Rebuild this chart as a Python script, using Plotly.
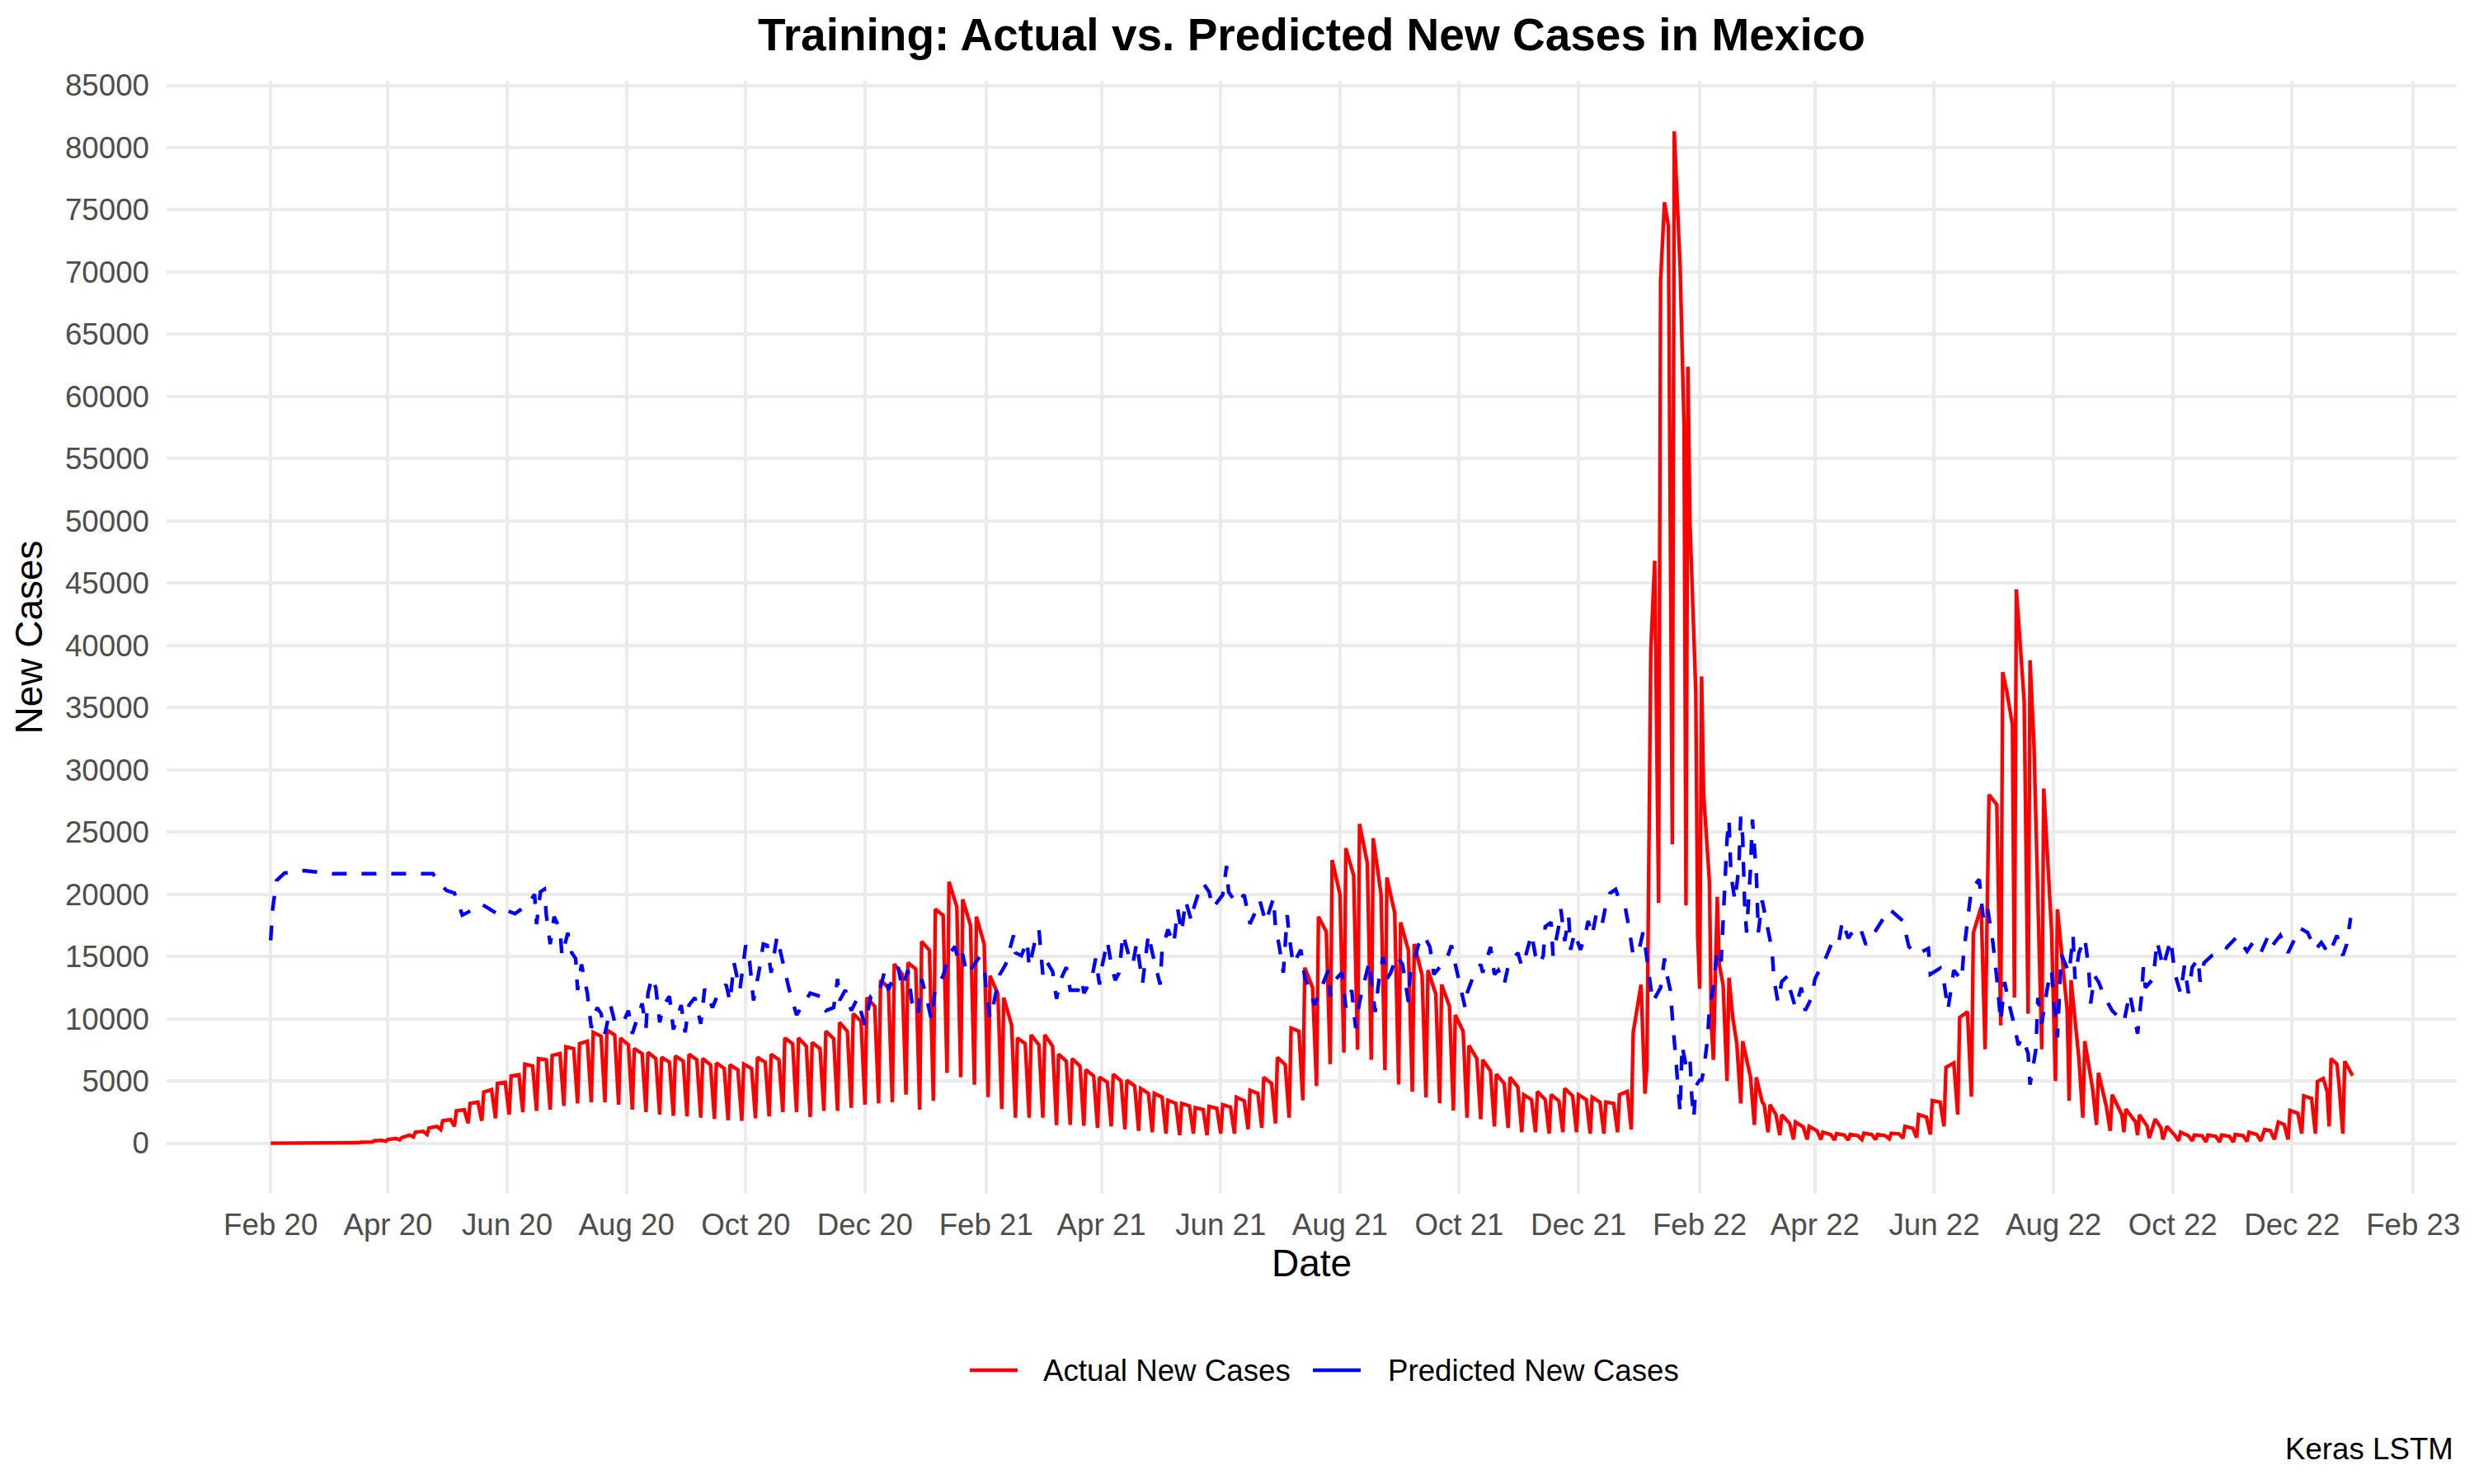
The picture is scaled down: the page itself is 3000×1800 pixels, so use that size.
import pandas as pd
import plotly.graph_objects as go

# ---------------- data ----------------
START_DATE = "2020-02-01"          # day 0 of the series

# Actual new cases: day offset from START_DATE and value
actual_days = [
    0, 44,
    45, 46, 50,   52, 53, 57,   59, 60, 64,   66, 67, 71,   73, 74, 78,
    80, 81, 85,   87, 88, 92,   94, 95, 99,   101, 102, 106,  108, 109, 113,
    115, 116, 120,  122, 123, 127,  129, 130, 134,  136, 137, 141,  143, 144, 148,
    150, 151, 155,  157, 158, 162,  164, 165, 169,  171, 172, 176,  178, 179, 183,
    185, 186, 190,  192, 193, 197,  199, 200, 204,  206, 207, 211,  213, 214, 218,
    220, 221, 225,  227, 228, 232,  234, 235, 239,  241, 242, 246,  248, 249, 253,
    255, 256, 260,  262, 263, 267,  269, 270, 274,  276, 277, 281,  283, 284, 288,
    290, 291, 295,  297, 298, 302,  304, 305, 309,  311, 312, 316,  318, 319, 323,
    325, 326, 330,  332, 333, 337,  339, 340, 344,  346, 347, 351,  353, 354, 358,
    360, 361, 365,  367, 368, 372,  374, 375, 379,  381, 382, 386,  388, 389, 393,
    395, 396, 400,  402, 403, 407,  409, 410, 414,  416, 417, 421,  423, 424, 428,
    430, 431, 435,  437, 438, 442,  444, 445, 449,  451, 452, 456,  458, 459, 463,
    465, 466, 470,  472, 473, 477,  479, 480, 484,  486, 487, 491,  493, 494, 498,
    500, 501, 505,  507, 508, 512,  514, 515, 519,  521, 522, 526,  528, 529, 533,
    535, 536, 540,  542, 543, 547,  549, 550, 554,  556, 557, 561,  563, 564, 568,
    570, 571, 575,  577, 578, 582,  584, 585, 589,  591, 592, 596,  598, 599, 603,
    605, 606, 610,  612, 613, 617,  619, 620, 624,  626, 627, 631,  633, 634, 638,
    640, 641, 645,  647, 648, 652,  654, 655, 659,  661, 662, 666,  668, 669, 673,
    675, 676, 680,  682, 683, 687,  689, 690, 694,  696, 697, 701,
    703, 704, 706, 708,
    710, 711, 713, 715,
    717, 718, 720, 721, 723,
    724, 725, 726, 729, 730,
    731, 732, 733, 736, 737,
    738, 740, 741, 743,
    745, 746, 748, 750,
    752, 753, 756, 757,
    759, 760, 763, 764,
    766, 767, 770,  772, 773, 777,  779, 780, 784,  786, 787, 791,  793, 794, 798,
    800, 801, 805,  807, 808, 812,  814, 815, 819,  821, 822, 826,  828, 829, 833,
    835, 836, 840,  842, 843, 847,  849, 850, 854,  856, 857, 861,  863, 864, 868,
    870, 871, 873, 875,
    877, 879, 883,
    885, 886, 888, 891,
    892, 893, 897,
    899, 900, 902,
    906, 907, 911,  913, 914, 919,  920, 921, 925,  927, 928, 932,  934, 935, 939,
    941, 942, 947,  948, 949, 954,  955, 956, 960,  961, 964, 967,  968, 970, 974,
    976, 977, 981,  983, 984, 988,  990, 991, 995,  997, 998, 1002,  1004, 1005, 1009,
    1011, 1012, 1016,  1018, 1020, 1023,  1025, 1027, 1030,  1032, 1033, 1037,
    1039, 1040, 1044,
    1046, 1047, 1050, 1052,
    1053, 1054, 1057, 1058,
    1060, 1061, 1063, 1065,
]
actual_cases = [
    0, 0,
    40, 80, 120,   100, 190, 230,   150, 300, 380,   280, 450, 650,   500, 880, 950,
    700, 1230, 1350,   1100, 1800, 1900,   1350, 2600, 2700,   1600, 3200, 3300,   1800, 4100, 4300,
    2000, 4800, 4900,   2300, 5400, 5500,   2500, 6350, 6200,   2600, 6800, 6700,   2700, 7050, 7200,
    3000, 7750, 7600,   3200, 8000, 8200,   3300, 8900, 8600,   3300, 9100, 8700,   3100, 8450, 7900,
    2700, 7600, 7200,   2500, 7300, 6800,   2300, 6900, 6500,   2200, 7000, 6600,   2150, 7150, 6700,
    2050, 6800, 6300,   1950, 6450, 6000,   1850, 6300, 5900,   1800, 6350, 6000,   2000, 6900, 6500,
    2150, 7150, 6700,   2500, 8450, 8000,   2500, 8450, 7800,   2100, 8100, 7600,   2600, 9000, 8400,
    2600, 9700, 9000,   2850, 10400, 9800,   3100, 11700, 11000,   3200, 13100, 12500,   3300, 14400, 13600,
    3900, 14500, 14000,   2700, 16200, 15500,   3400, 18800, 18300,   5650, 21000, 19000,   5300, 19600, 17500,
    4700, 18200, 16000,   3700, 13450, 12000,   2750, 11700, 9500,   2050, 8450, 8000,   2050, 8700, 7900,
    2050, 8700, 7800,   1450, 7150, 6600,   1470, 6800, 6200,   1400, 5900, 5400,   1230, 5300, 4900,
    1350, 5550, 5000,   1120, 5050, 4600,   1000, 4400, 4000,   880, 4000, 3700,   770, 3450, 3200,
    650, 3200, 3000,   770, 2850, 2700,   650, 2950, 2800,   770, 3100, 2900,   770, 3700, 3400,
    1120, 4250, 4000,   1230, 5300, 4800,   1580, 6900, 6300,   2050, 9250, 9000,   3440, 14100, 12500,
    4600, 18200, 17000,   6350, 22750, 20000,   7280, 23700, 21500,   7510, 25650, 22500,   6700, 24500, 20000,
    5880, 21350, 18500,   4720, 17750, 15500,   4140, 16000, 13500,   3680, 13900, 12000,   3210, 12750, 11000,
    2630, 10300, 9000,   2050, 7850, 6800,   1930, 6700, 5800,   1350, 5550, 4800,   1230, 5300, 4500,
    880, 3900, 3500,   880, 4150, 3500,   770, 3900, 3400,   880, 4400, 3800,   880, 3900, 3500,
    770, 3700, 3300,   770, 3300, 3200,   880, 3900, 4150,   1100, 8900, 12740,
    3970, 6150, 39600, 46800,
    19300, 69300, 75600, 73700,
    24000, 81300, 74000, 70400, 57700,
    19100, 62400, 50000, 36300, 16600,
    12400, 37500, 28100, 21000, 9450,
    6700, 19800, 14400, 12700,
    5000, 13300, 10000, 8000,
    3200, 8200, 6200, 5300,
    1470, 5300, 3300, 3100,
    880, 3100, 2300,   650, 2280, 1600,   300, 1700, 1300,   300, 1350, 1000,   300, 880, 700,
    250, 770, 650,   250, 700, 600,   300, 800, 700,   300, 700, 600,   350, 800, 750,
    400, 1360, 1200,   450, 2300, 2100,   700, 3430, 3300,   1360, 6100, 6440,   2300, 10100, 10560,
    3740, 16900, 18000, 19000,
    7550, 28000, 27200,
    9460, 37850, 36400, 33600,
    11700, 44500, 35500,
    10400, 38800, 32000,
    7550, 28500, 17100,   5000, 18800, 10700,   3400, 13100, 6800,   2050, 8200, 4370,   1470, 5650, 2980,
    1000, 3900, 2280,   880, 2745, 1700,   650, 2280, 1350,   420, 1930, 1230,   300, 1350, 650,
    190, 880, 600,   190, 650, 600,   100, 650, 550,   100, 650, 550,   100, 700, 600,
    150, 880, 700,   190, 1100, 1000,   300, 1700, 1500,   300, 2630, 2400,
    770, 3800, 3600,
    770, 4950, 5200, 4140,
    1350, 6800, 6350, 4840,
    770, 6580, 6000, 5420,
]

# Predicted new cases: day offset from START_DATE and value
predicted_days = [
    0, 1, 3, 7, 17, 22, 32, 83, 87, 90, 94, 96, 98, 101, 105, 108, 112, 117, 121, 125,
    129, 133, 135, 136, 138, 140, 141, 143, 145, 148, 149, 152, 154, 156, 157, 159, 162, 163, 164, 167,
    169, 171, 174, 176, 180, 183, 185, 190, 192, 193, 195, 197, 199, 201, 204, 206, 210, 212, 214, 217,
    220, 222, 226, 229, 233, 235, 237, 240, 243, 245, 247, 250, 252, 254, 256, 259, 262, 265, 269, 273,
    276, 281, 284, 288, 290, 291, 294, 297, 300, 304, 307, 311, 314, 316, 319, 321, 323, 326, 328, 331,
    333, 336, 338, 340, 344, 347, 350, 352, 354, 356, 359, 362, 365, 366, 368, 370, 373, 376, 378, 380,
    381, 384, 387, 388, 391, 393, 395, 397, 400, 402, 404, 407, 409, 413, 415, 416, 420, 422, 424, 425,
    428, 430, 432, 434, 436, 439, 441, 443, 446, 449, 451, 453, 455, 456, 459, 462, 464, 466, 468, 471,
    472, 475, 477, 480, 482, 487, 489, 490, 494, 498, 501, 503, 506, 509, 513, 514, 516, 518, 520, 521,
    523, 527, 529, 532, 534, 537, 541, 542, 545, 548, 550, 553, 555, 557, 560, 562, 564, 565, 567, 569,
    571, 573, 576, 579, 582, 583, 585, 587, 590, 593, 595, 598, 601, 604, 606, 609, 611, 612, 615, 619,
    620, 624, 626, 628, 631, 633, 638, 640, 642, 645, 647, 649, 651, 652, 655, 656, 659, 660, 662, 664,
    665, 667, 670, 672, 674, 676, 678, 681, 683, 685, 688, 690, 693, 695, 697, 700, 702, 703, 705, 707,
    711, 713, 714, 716, 717, 718, 719, 721, 722, 724, 726, 727, 728, 729, 731, 732, 733, 735, 736, 738,
    739, 740, 742, 744, 745, 746, 747, 749, 751, 752, 753, 754, 755, 757, 758, 760, 761, 763, 765, 768,
    769, 771, 773, 776, 777, 780, 783, 785, 788, 790, 793, 796, 799, 802, 804, 807, 810, 813, 816, 821,
    828, 835, 838, 842, 848, 849, 854, 856, 858, 861, 865, 866, 868, 870, 874, 876, 878, 881, 883, 885,
    887, 889, 892, 894, 896, 899, 900, 903, 904, 906, 909, 911, 912, 914, 916, 918, 920, 922, 923, 925,
    928, 930, 931, 933, 935, 938, 942, 948, 951, 955, 957, 958, 959, 963, 965, 968, 972, 974, 977, 979,
    981, 983, 986, 987, 989, 993, 999, 1001, 1006, 1011, 1014, 1018, 1022, 1024, 1028, 1032, 1038, 1042, 1046, 1049,
    1053, 1057, 1060, 1062, 1064,
]
predicted_cases = [
    16300, 18800, 21100, 21700, 21900, 21800, 21650, 21650, 20800, 20300, 20100, 19300, 18330, 18560, 19000, 19200, 18800, 18330, 18680, 18440,
    18900, 19500, 20000, 17600, 20200, 20400, 18330, 16000, 18200, 17200, 15070, 16900, 15300, 14840, 12300, 14370, 12050, 10900, 9260, 10900,
    10420, 8800, 11000, 9720, 9600, 10650, 8800, 11230, 9260, 12050, 13330, 12500, 9720, 11100, 11800, 9140, 11100, 8900, 11100, 11700,
    9600, 12400, 10900, 12050, 12750, 11350, 14500, 12300, 15900, 14600, 11470, 14000, 16000, 15900, 13700, 16600, 14700, 12500, 10300, 11230,
    12050, 11800, 10650, 10900, 13200, 11470, 12300, 10650, 11600, 9500, 11800, 11900, 13800, 12300, 13560, 14140, 12500, 13900, 11350, 10300,
    13200, 11350, 9950, 12500, 13450, 15200, 15800, 14500, 15200, 13560, 14140, 14840, 14370, 12300, 10070, 11350, 13560, 14370, 15540, 16700,
    15300, 15070, 16240, 14140, 16240, 17170, 13560, 14600, 13800, 11600, 13100, 14140, 12300, 12300, 13100, 12050, 13200, 14840, 12750, 14000,
    16240, 14370, 13100, 13700, 16800, 15070, 14370, 16100, 12860, 16800, 15300, 13900, 12750, 15540, 17170, 16000, 18800, 16930, 19500, 17860,
    18800, 20300, 20900, 20200, 18900, 19960, 22280, 20200, 19260, 19960, 17630, 18330, 19500, 17750, 19700, 17400, 15770, 13700, 18330, 16700,
    14370, 15540, 13330, 12050, 11100, 12300, 13900, 11800, 13200, 13700, 10900, 12300, 9260, 11350, 13200, 14600, 11800, 10540, 13200, 14960,
    13200, 13700, 15070, 14370, 11350, 13700, 14600, 15900, 16700, 15770, 13560, 14140, 14500, 15900, 14370, 12300, 10900, 12050, 13330, 14370,
    13700, 15770, 13560, 13900, 12750, 14200, 15300, 14200, 15070, 16800, 15070, 14370, 15070, 17400, 17750, 15070, 17500, 18800, 16240, 18200,
    15540, 16930, 15540, 16470, 17860, 16700, 18330, 17500, 19140, 20070, 20400, 19500, 18900, 17170, 15070, 15540, 16930, 16000, 13700, 11350,
    12500, 14840, 13700, 12300, 10200, 8330, 5770, 2500, 7860, 6230, 6900, 3680, 2050, 4600, 5070, 5070, 5770, 8330, 10900, 12500,
    14140, 15540, 14600, 21800, 24400, 26000, 21600, 19500, 22050, 26240, 24600, 19260, 16930, 22050, 26000, 21600, 16930, 19500, 17860, 15540,
    13200, 11350, 12980, 13440, 12500, 10900, 12500, 10650, 11600, 13200, 14140, 15070, 16240, 16000, 17860, 16470, 17170, 17390, 15960, 17070,
    18820, 17860, 15800, 15170, 15640, 13580, 14060, 12950, 10720, 13900, 13100, 15170, 17860, 20400, 21200, 18180, 19130, 16120, 13260, 9770,
    12950, 11360, 9460, 7870, 8500, 7230, 4700, 7550, 11680, 9610, 12630, 13900, 11680, 8500, 15170, 14370, 13680, 16700, 13200, 15300,
    16470, 14140, 11230, 13440, 12980, 11800, 10650, 9720, 12050, 8800, 11800, 14140, 12500, 13200, 16240, 14140, 16350, 13680, 12050, 14260,
    12050, 14140, 14840, 12980, 14490, 15070, 15320, 15800, 16600, 15420, 16120, 15300, 16700, 15890, 16700, 15300, 17280, 16930, 15540, 16120,
    15190, 16700, 15070, 16000, 18100,
]

y_tick_values = list(range(0, 85001, 5000))

assert len(actual_days) == len(actual_cases)
assert len(predicted_days) == len(predicted_cases)

# ---------------- figure ----------------
W, H = 3000, 1800
OFF = 8                      # the page body adds an 8 px margin; positions below are screen pixels
# plot panel in screen pixels: x 202..2979, y 98..1448
ML = 202 - OFF
MT = 98 - OFF
MR = W - (2979 - OFF)
MB = H - (1448 - OFF)
PW, PH = W - ML - MR, H - MT - MB
FONT = "Liberation Sans, Arial, Helvetica, sans-serif"

start = pd.Timestamp(START_DATE)
x_actual = start + pd.to_timedelta(actual_days, unit="D")
x_pred = start + pd.to_timedelta(predicted_days, unit="D")

span = max(actual_days) - min(actual_days)
x_range = [start - pd.Timedelta(days=0.05 * span), start + pd.Timedelta(days=max(actual_days) + 0.05 * span)]
ymax = max(actual_cases)
y_range = [-0.05 * ymax, ymax * 1.05]


def px_x(px):
    """screen pixel x -> paper coordinate"""
    return (px - OFF - ML) / PW


def px_y(py):
    """screen pixel y -> paper coordinate"""
    return (MT + PH - (py - OFF)) / PH


LW = 4.4
fig = go.Figure()
fig.add_trace(go.Scatter(x=x_actual, y=actual_cases, mode="lines", name="Actual New Cases",
                         line=dict(color="#FF0000", width=LW), showlegend=False))
fig.add_trace(go.Scatter(x=x_pred, y=predicted_cases, mode="lines", name="Predicted New Cases",
                         line=dict(color="#0000FF", width=LW, dash="18px,18px"), showlegend=False))

# legend (drawn like ggplot's bottom legend, solid keys)
leg_y = px_y(1662)
shapes = [
    dict(type="line", xref="paper", yref="paper", x0=px_x(1176), x1=px_x(1234), y0=leg_y, y1=leg_y,
         line=dict(color="#FF0000", width=LW)),
    dict(type="line", xref="paper", yref="paper", x0=px_x(1592), x1=px_x(1650), y0=leg_y, y1=leg_y,
         line=dict(color="#0000FF", width=LW)),
]
annotations = [
    dict(text="Actual New Cases", xref="paper", yref="paper", x=px_x(1263), y=leg_y,
         xanchor="left", yanchor="middle", showarrow=False, font=dict(family=FONT, size=36.7, color="black")),
    dict(text="Predicted New Cases", xref="paper", yref="paper", x=px_x(1681), y=leg_y,
         xanchor="left", yanchor="middle", showarrow=False, font=dict(family=FONT, size=36.7, color="black")),
    dict(text="Keras LSTM", xref="paper", yref="paper", x=px_x(2977), y=px_y(1757),
         xanchor="right", yanchor="middle", showarrow=False, font=dict(family=FONT, size=36.7, color="black")),
]

fig.update_layout(
    width=W, height=H,
    margin=dict(l=ML, r=MR, t=MT, b=MB, autoexpand=False),
    paper_bgcolor="white", plot_bgcolor="white",
    font=dict(family=FONT, color="black"),
    title=dict(text="<b>Training: Actual vs. Predicted New Cases in Mexico</b>",
               x=0.5, xref="paper", y=1 - (42 - OFF) / H, yref="container",
               xanchor="center", yanchor="middle",
               font=dict(family=FONT, size=55, color="black")),
    shapes=shapes, annotations=annotations,
    showlegend=False,
)
fig.update_xaxes(
    range=x_range, type="date", tick0="2020-02-01", dtick="M2", tickformat="%b %y",
    showgrid=True, gridcolor="#EBEBEB", gridwidth=LW, zeroline=False, showline=False,
    ticks="", ticklabelstandoff=12, automargin=False,
    tickfont=dict(family=FONT, size=36.7, color="#4D4D4D"),
    title=dict(text="Date", standoff=8, font=dict(family=FONT, size=46, color="black")),
)
fig.update_yaxes(
    range=y_range, tickvals=y_tick_values, tickformat="d",
    showgrid=True, gridcolor="#EBEBEB", gridwidth=LW, zeroline=False, showline=False,
    ticks="", ticklabelstandoff=20, automargin=False,
    tickfont=dict(family=FONT, size=36.7, color="#4D4D4D"),
    title=dict(text="New Cases", standoff=12, font=dict(family=FONT, size=46, color="black")),
)

fig.write_html("out.html")
